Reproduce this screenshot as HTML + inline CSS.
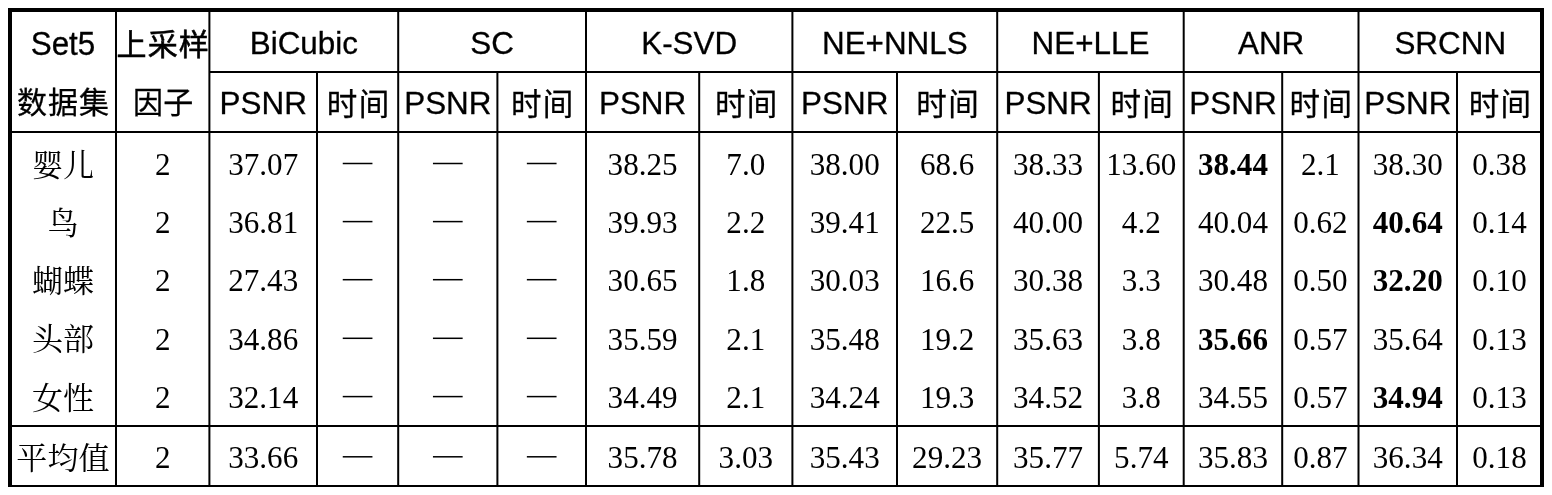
<!DOCTYPE html>
<html><head><meta charset="utf-8"><title>table</title>
<style>
html,body{margin:0;padding:0;background:#fff;}
svg{display:block;filter:grayscale(1)}
text.a{font-family:"Liberation Sans",sans-serif;font-size:31.4px;stroke:#000;stroke-width:0.3px;}
text.s{font-family:"Liberation Serif",serif;font-size:31.1px;}
text.b{font-weight:bold}
text.c{font-family:"Liberation Sans","Noto Sans CJK SC",sans-serif;stroke:#000;stroke-width:0.3px;}
text.r{font-family:"Liberation Serif","Noto Serif CJK SC",serif;font-size:31.1px;}
</style></head><body>
<svg width="1552" height="495" viewBox="0 0 1552 495" fill="#000">
<rect x="0" y="0" width="1552" height="495" fill="#fff"/>
<rect x="8.00" y="8.00" width="4.00" height="479.00"/>
<rect x="1540.00" y="8.00" width="4.00" height="479.00"/>
<rect x="8.00" y="8.00" width="1536.00" height="4.00"/>
<rect x="8.00" y="485.00" width="1536.00" height="2.00"/>
<rect x="115.00" y="12.00" width="2.00" height="473.00"/>
<rect x="208.40" y="12.00" width="2.00" height="473.00"/>
<rect x="316.00" y="72.00" width="2.00" height="413.00"/>
<rect x="397.20" y="12.00" width="2.00" height="473.00"/>
<rect x="496.40" y="72.00" width="2.00" height="413.00"/>
<rect x="585.00" y="12.00" width="2.00" height="473.00"/>
<rect x="698.20" y="72.00" width="2.00" height="413.00"/>
<rect x="791.40" y="12.00" width="2.00" height="473.00"/>
<rect x="896.00" y="72.00" width="2.00" height="413.00"/>
<rect x="996.20" y="12.00" width="2.00" height="473.00"/>
<rect x="1097.90" y="72.00" width="2.00" height="413.00"/>
<rect x="1182.70" y="12.00" width="2.00" height="473.00"/>
<rect x="1281.20" y="72.00" width="2.00" height="413.00"/>
<rect x="1357.50" y="12.00" width="2.00" height="473.00"/>
<rect x="1456.00" y="72.00" width="2.00" height="413.00"/>
<rect x="209.40" y="71.00" width="1330.60" height="2.00"/>
<rect x="12.00" y="131.00" width="1528.00" height="2.00"/>
<rect x="12.00" y="425.00" width="1528.00" height="2.00"/>
<text transform="translate(63.00 55.00) scale(1 1.03)" class="a" text-anchor="middle">Set5</text>
<text x="116.60" y="55.18" class="c" font-size="30" letter-spacing="1.1" style="stroke-width:0.6px">上采样</text>
<text x="16.90" y="113.48" class="c" font-size="30" letter-spacing="1.1">数据集</text>
<text x="133.05" y="113.48" class="c" font-size="30" letter-spacing="0.2">因子</text>
<text transform="translate(303.80 54.00) scale(1 1.0)" class="a" text-anchor="middle">BiCubic</text>
<text transform="translate(263.20 114.00) scale(1 1.0)" class="a" text-anchor="middle">PSNR</text>
<text x="326.80" y="114.67" class="c" font-size="30.5" letter-spacing="1.36">时间</text>
<text transform="translate(492.10 54.00) scale(1 1.0)" class="a" text-anchor="middle">SC</text>
<text transform="translate(447.80 114.00) scale(1 1.0)" class="a" text-anchor="middle">PSNR</text>
<text x="510.90" y="114.67" class="c" font-size="30.5" letter-spacing="1.36">时间</text>
<text transform="translate(689.20 54.00) scale(1 1.0)" class="a" text-anchor="middle">K-SVD</text>
<text transform="translate(642.60 114.00) scale(1 1.0)" class="a" text-anchor="middle">PSNR</text>
<text x="715.00" y="114.67" class="c" font-size="30.5" letter-spacing="1.36">时间</text>
<text transform="translate(894.80 54.00) scale(1 1.0)" class="a" text-anchor="middle">NE+NNLS</text>
<text transform="translate(844.70 114.00) scale(1 1.0)" class="a" text-anchor="middle">PSNR</text>
<text x="916.30" y="114.67" class="c" font-size="30.5" letter-spacing="1.36">时间</text>
<text transform="translate(1090.45 54.00) scale(1 1.0)" class="a" text-anchor="middle">NE+LLE</text>
<text transform="translate(1048.05 114.00) scale(1 1.0)" class="a" text-anchor="middle">PSNR</text>
<text x="1110.50" y="114.67" class="c" font-size="30.5" letter-spacing="1.36">时间</text>
<text transform="translate(1271.10 54.00) scale(1 1.0)" class="a" text-anchor="middle">ANR</text>
<text transform="translate(1232.95 114.00) scale(1 1.0)" class="a" text-anchor="middle">PSNR</text>
<text x="1289.55" y="114.67" class="c" font-size="30.5" letter-spacing="1.36">时间</text>
<text transform="translate(1450.25 54.00) scale(1 1.0)" class="a" text-anchor="middle">SRCNN</text>
<text transform="translate(1407.75 114.00) scale(1 1.0)" class="a" text-anchor="middle">PSNR</text>
<text x="1468.70" y="114.67" class="c" font-size="30.5" letter-spacing="1.36">时间</text>
<text x="31.90" y="175.50" class="r">婴儿</text>
<text transform="translate(162.70 175.00) scale(1 1.02)" class="s" text-anchor="middle">2</text>
<text transform="translate(263.20 175.00) scale(1 1.02)" class="s" text-anchor="middle">37.07</text>
<rect x="342.75" y="162.75" width="29.70" height="1.50"/>
<rect x="432.95" y="162.75" width="29.70" height="1.50"/>
<rect x="526.85" y="162.75" width="29.70" height="1.50"/>
<text transform="translate(642.60 175.00) scale(1 1.02)" class="s" text-anchor="middle">38.25</text>
<text transform="translate(745.80 175.00) scale(1 1.02)" class="s" text-anchor="middle">7.0</text>
<text transform="translate(844.70 175.00) scale(1 1.02)" class="s" text-anchor="middle">38.00</text>
<text transform="translate(947.10 175.00) scale(1 1.02)" class="s" text-anchor="middle">68.6</text>
<text transform="translate(1048.05 175.00) scale(1 1.02)" class="s" text-anchor="middle">38.33</text>
<text transform="translate(1141.30 175.00) scale(1 1.02)" class="s" text-anchor="middle">13.60</text>
<text transform="translate(1232.95 175.00) scale(1 1.02)" class="s b" text-anchor="middle">38.44</text>
<text transform="translate(1320.35 175.00) scale(1 1.02)" class="s" text-anchor="middle">2.1</text>
<text transform="translate(1407.75 175.00) scale(1 1.02)" class="s" text-anchor="middle">38.30</text>
<text transform="translate(1499.50 175.00) scale(1 1.02)" class="s" text-anchor="middle">0.38</text>
<text x="47.45" y="233.60" class="r">鸟</text>
<text transform="translate(162.70 233.00) scale(1 1.02)" class="s" text-anchor="middle">2</text>
<text transform="translate(263.20 233.00) scale(1 1.02)" class="s" text-anchor="middle">36.81</text>
<rect x="342.75" y="220.85" width="29.70" height="1.50"/>
<rect x="432.95" y="220.85" width="29.70" height="1.50"/>
<rect x="526.85" y="220.85" width="29.70" height="1.50"/>
<text transform="translate(642.60 233.00) scale(1 1.02)" class="s" text-anchor="middle">39.93</text>
<text transform="translate(745.80 233.00) scale(1 1.02)" class="s" text-anchor="middle">2.2</text>
<text transform="translate(844.70 233.00) scale(1 1.02)" class="s" text-anchor="middle">39.41</text>
<text transform="translate(947.10 233.00) scale(1 1.02)" class="s" text-anchor="middle">22.5</text>
<text transform="translate(1048.05 233.00) scale(1 1.02)" class="s" text-anchor="middle">40.00</text>
<text transform="translate(1141.30 233.00) scale(1 1.02)" class="s" text-anchor="middle">4.2</text>
<text transform="translate(1232.95 233.00) scale(1 1.02)" class="s" text-anchor="middle">40.04</text>
<text transform="translate(1320.35 233.00) scale(1 1.02)" class="s" text-anchor="middle">0.62</text>
<text transform="translate(1407.75 233.00) scale(1 1.02)" class="s b" text-anchor="middle">40.64</text>
<text transform="translate(1499.50 233.00) scale(1 1.02)" class="s" text-anchor="middle">0.14</text>
<text x="31.90" y="291.70" class="r">蝴蝶</text>
<text transform="translate(162.70 291.00) scale(1 1.02)" class="s" text-anchor="middle">2</text>
<text transform="translate(263.20 291.00) scale(1 1.02)" class="s" text-anchor="middle">27.43</text>
<rect x="342.75" y="278.95" width="29.70" height="1.50"/>
<rect x="432.95" y="278.95" width="29.70" height="1.50"/>
<rect x="526.85" y="278.95" width="29.70" height="1.50"/>
<text transform="translate(642.60 291.00) scale(1 1.02)" class="s" text-anchor="middle">30.65</text>
<text transform="translate(745.80 291.00) scale(1 1.02)" class="s" text-anchor="middle">1.8</text>
<text transform="translate(844.70 291.00) scale(1 1.02)" class="s" text-anchor="middle">30.03</text>
<text transform="translate(947.10 291.00) scale(1 1.02)" class="s" text-anchor="middle">16.6</text>
<text transform="translate(1048.05 291.00) scale(1 1.02)" class="s" text-anchor="middle">30.38</text>
<text transform="translate(1141.30 291.00) scale(1 1.02)" class="s" text-anchor="middle">3.3</text>
<text transform="translate(1232.95 291.00) scale(1 1.02)" class="s" text-anchor="middle">30.48</text>
<text transform="translate(1320.35 291.00) scale(1 1.02)" class="s" text-anchor="middle">0.50</text>
<text transform="translate(1407.75 291.00) scale(1 1.02)" class="s b" text-anchor="middle">32.20</text>
<text transform="translate(1499.50 291.00) scale(1 1.02)" class="s" text-anchor="middle">0.10</text>
<text x="31.90" y="350.30" class="r">头部</text>
<text transform="translate(162.70 350.00) scale(1 1.02)" class="s" text-anchor="middle">2</text>
<text transform="translate(263.20 350.00) scale(1 1.02)" class="s" text-anchor="middle">34.86</text>
<rect x="342.75" y="337.55" width="29.70" height="1.50"/>
<rect x="432.95" y="337.55" width="29.70" height="1.50"/>
<rect x="526.85" y="337.55" width="29.70" height="1.50"/>
<text transform="translate(642.60 350.00) scale(1 1.02)" class="s" text-anchor="middle">35.59</text>
<text transform="translate(745.80 350.00) scale(1 1.02)" class="s" text-anchor="middle">2.1</text>
<text transform="translate(844.70 350.00) scale(1 1.02)" class="s" text-anchor="middle">35.48</text>
<text transform="translate(947.10 350.00) scale(1 1.02)" class="s" text-anchor="middle">19.2</text>
<text transform="translate(1048.05 350.00) scale(1 1.02)" class="s" text-anchor="middle">35.63</text>
<text transform="translate(1141.30 350.00) scale(1 1.02)" class="s" text-anchor="middle">3.8</text>
<text transform="translate(1232.95 350.00) scale(1 1.02)" class="s b" text-anchor="middle">35.66</text>
<text transform="translate(1320.35 350.00) scale(1 1.02)" class="s" text-anchor="middle">0.57</text>
<text transform="translate(1407.75 350.00) scale(1 1.02)" class="s" text-anchor="middle">35.64</text>
<text transform="translate(1499.50 350.00) scale(1 1.02)" class="s" text-anchor="middle">0.13</text>
<text x="31.90" y="408.60" class="r">女性</text>
<text transform="translate(162.70 408.00) scale(1 1.02)" class="s" text-anchor="middle">2</text>
<text transform="translate(263.20 408.00) scale(1 1.02)" class="s" text-anchor="middle">32.14</text>
<rect x="342.75" y="395.85" width="29.70" height="1.50"/>
<rect x="432.95" y="395.85" width="29.70" height="1.50"/>
<rect x="526.85" y="395.85" width="29.70" height="1.50"/>
<text transform="translate(642.60 408.00) scale(1 1.02)" class="s" text-anchor="middle">34.49</text>
<text transform="translate(745.80 408.00) scale(1 1.02)" class="s" text-anchor="middle">2.1</text>
<text transform="translate(844.70 408.00) scale(1 1.02)" class="s" text-anchor="middle">34.24</text>
<text transform="translate(947.10 408.00) scale(1 1.02)" class="s" text-anchor="middle">19.3</text>
<text transform="translate(1048.05 408.00) scale(1 1.02)" class="s" text-anchor="middle">34.52</text>
<text transform="translate(1141.30 408.00) scale(1 1.02)" class="s" text-anchor="middle">3.8</text>
<text transform="translate(1232.95 408.00) scale(1 1.02)" class="s" text-anchor="middle">34.55</text>
<text transform="translate(1320.35 408.00) scale(1 1.02)" class="s" text-anchor="middle">0.57</text>
<text transform="translate(1407.75 408.00) scale(1 1.02)" class="s b" text-anchor="middle">34.94</text>
<text transform="translate(1499.50 408.00) scale(1 1.02)" class="s" text-anchor="middle">0.13</text>
<text x="16.35" y="468.80" class="r">平均值</text>
<text transform="translate(162.70 468.00) scale(1 1.02)" class="s" text-anchor="middle">2</text>
<text transform="translate(263.20 468.00) scale(1 1.02)" class="s" text-anchor="middle">33.66</text>
<rect x="342.75" y="456.05" width="29.70" height="1.50"/>
<rect x="432.95" y="456.05" width="29.70" height="1.50"/>
<rect x="526.85" y="456.05" width="29.70" height="1.50"/>
<text transform="translate(642.60 468.00) scale(1 1.02)" class="s" text-anchor="middle">35.78</text>
<text transform="translate(745.80 468.00) scale(1 1.02)" class="s" text-anchor="middle">3.03</text>
<text transform="translate(844.70 468.00) scale(1 1.02)" class="s" text-anchor="middle">35.43</text>
<text transform="translate(947.10 468.00) scale(1 1.02)" class="s" text-anchor="middle">29.23</text>
<text transform="translate(1048.05 468.00) scale(1 1.02)" class="s" text-anchor="middle">35.77</text>
<text transform="translate(1141.30 468.00) scale(1 1.02)" class="s" text-anchor="middle">5.74</text>
<text transform="translate(1232.95 468.00) scale(1 1.02)" class="s" text-anchor="middle">35.83</text>
<text transform="translate(1320.35 468.00) scale(1 1.02)" class="s" text-anchor="middle">0.87</text>
<text transform="translate(1407.75 468.00) scale(1 1.02)" class="s" text-anchor="middle">36.34</text>
<text transform="translate(1499.50 468.00) scale(1 1.02)" class="s" text-anchor="middle">0.18</text>
</svg>
</body></html>
